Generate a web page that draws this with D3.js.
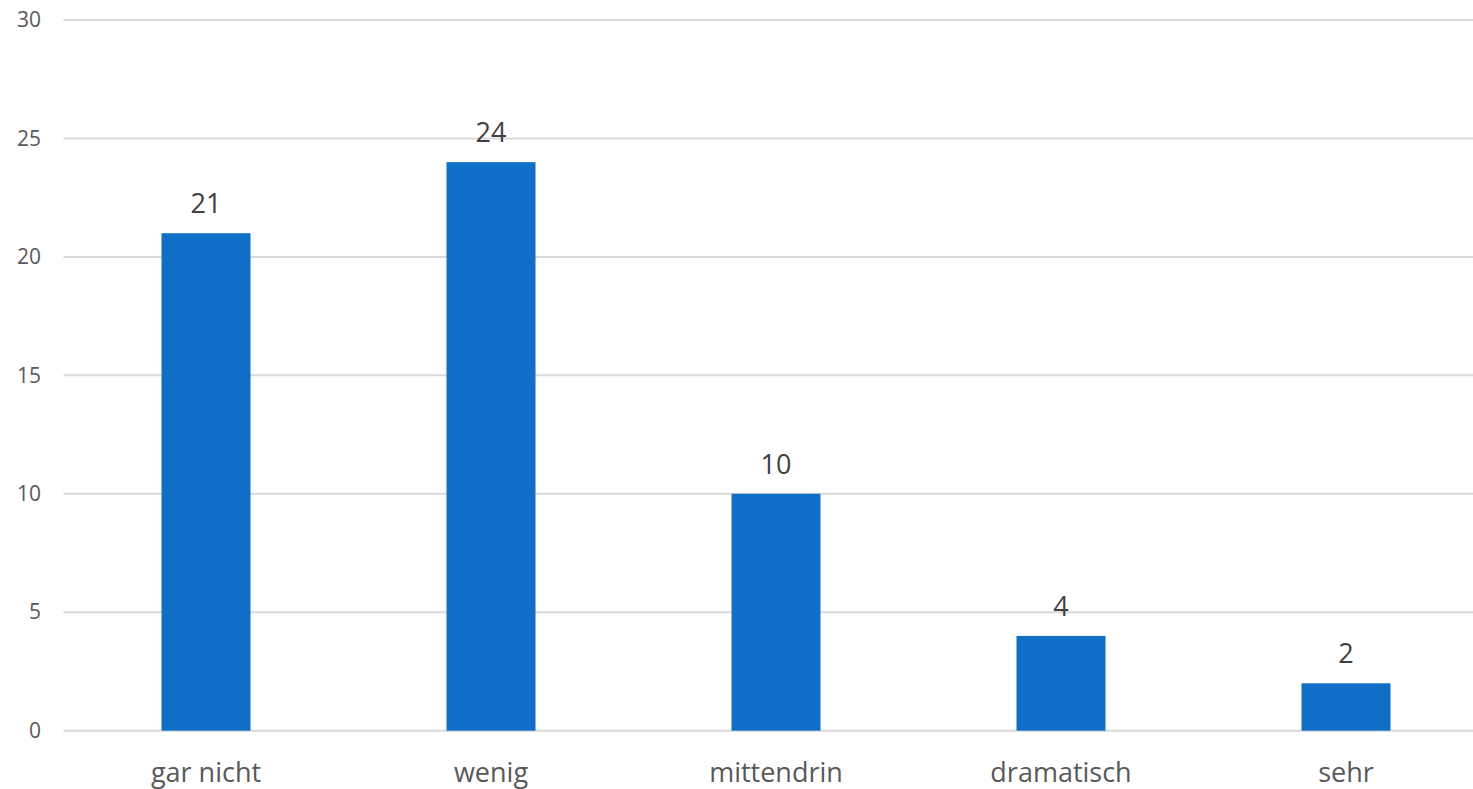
<!DOCTYPE html>
<html><head><meta charset="utf-8">
<script src="https://cdn.jsdelivr.net/npm/d3@7"></script>
<style>body{margin:0;background:#fff}svg{display:block}text{font-family:"Open Sans",sans-serif}</style>
</head><body><svg id="c" width="1473" height="789"></svg>
<script>
const categories = ["gar nicht","wenig","mittendrin","dramatisch","sehr"];
const values = [21,24,10,4,2];
const yTicks = [0,5,10,15,20,25,30];

const svg = d3.select("#c");
const x = d3.scaleBand().domain(categories).range([63.5,1488.5]).paddingInner(0.6877).paddingOuter(0.6877/2);
const y = d3.scaleLinear().domain([0,30]).range([730.7,20]);

svg.append("g").selectAll("line").data(yTicks).join("line")
  .attr("x1",63.5).attr("x2",1488.5).attr("y1",d=>y(d)).attr("y2",d=>y(d))
  .attr("stroke","#d9d9d9").attr("stroke-width",2);

const yAxis = d3.axisLeft(y).tickValues(yTicks).tickSize(0).tickPadding(0);
const ga = svg.append("g").attr("transform","translate(41,0)").call(yAxis);
ga.select(".domain").remove();
ga.selectAll("text").attr("fill","#595959").style("font-size","21px").style("font-family","'Open Sans',sans-serif");

svg.append("g").selectAll("rect").data(values).join("rect")
  .attr("x",(d,i)=>x(categories[i])).attr("width",x.bandwidth())
  .attr("y",d=>y(d)).attr("height",d=>y(0)-y(d)).attr("fill","#0f6fc6");

svg.append("g").selectAll("text").data(values).join("text")
  .attr("x",(d,i)=>x(categories[i])+x.bandwidth()/2).attr("y",d=>y(d)-20)
  .attr("text-anchor","middle").attr("fill","#404040").style("font-size","27px").text(d=>d);

const xAxis = d3.axisBottom(x).tickSize(0).tickPadding(0);
const gx = svg.append("g").attr("transform","translate(0,782)").call(xAxis);
gx.select(".domain").remove();
gx.selectAll("text").attr("dy",null).attr("fill","#595959").style("font-size","27px").style("font-family","'Open Sans',sans-serif");
</script></body></html>
